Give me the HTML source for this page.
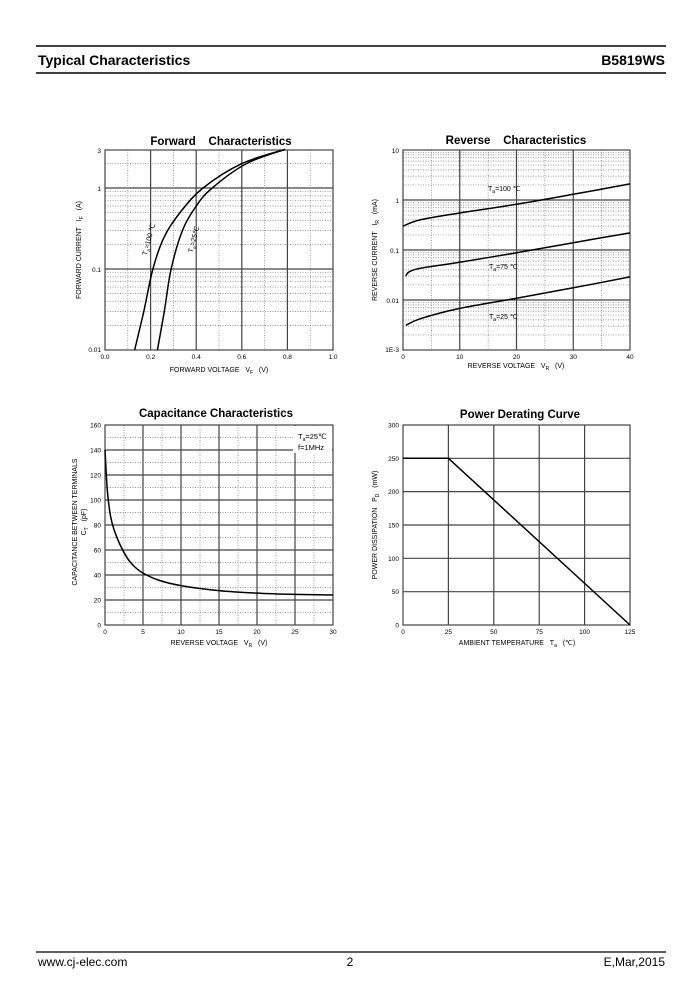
<!DOCTYPE html>
<html><head><meta charset="utf-8"><style>
body{margin:0;background:#fff}
svg{display:block;font-family:"Liberation Sans",Arial,sans-serif}
</style></head><body>
<svg id="s" width="700" height="1000" viewBox="0 0 700 1000" xmlns="http://www.w3.org/2000/svg">
<rect width="700" height="1000" fill="#fff"/>
<line x1="36" y1="46" x2="666" y2="46" stroke="#000" stroke-width="1.5"/>
<line x1="36" y1="73" x2="666" y2="73" stroke="#000" stroke-width="1.5"/>
<text x="38" y="65" font-size="14" font-weight="bold">Typical Characteristics</text>
<text x="665" y="65" font-size="14" font-weight="bold" text-anchor="end">B5819WS</text>
<line x1="36" y1="952" x2="666" y2="952" stroke="#000" stroke-width="1.2"/>
<text x="38" y="966" font-size="12">www.cj-elec.com</text>
<text x="350" y="966" font-size="12" text-anchor="middle">2</text>
<text x="665" y="966" font-size="12" text-anchor="end">E,Mar,2015</text>
<g id="g"></g>
</svg>
<script>
var g=document.getElementById('g'),h='';
function L(x1,y1,x2,y2,d,w){h+='<line x1="'+x1+'" y1="'+y1+'" x2="'+x2+'" y2="'+y2+'" stroke="'+(d?'#777':'#444')+'" stroke-width="'+(w||(d?0.7:1.2))+'"'+(d?' stroke-dasharray="1,1.5"':'')+'/>';}
function T(x,y,t,s,a,extra){h+='<text x="'+x+'" y="'+y+'" font-size="'+s+'" text-anchor="'+(a||'start')+'" '+(extra||'')+'>'+t+'</text>';}
function P(pts,fx,fy){var d='';pts.forEach(function(p,i){d+=(i?'L':'M')+fx(p[0]).toFixed(1)+','+fy(p[1]).toFixed(1);});h+='<path d="'+d+'" fill="none" stroke="#000" stroke-width="1.5" stroke-linejoin="round"/>';}
function smooth(pts,fx,fy){var d='M'+fx(pts[0][0])+','+fy(pts[0][1]);var P2=pts.map(function(p){return [fx(p[0]),fy(p[1])]});
for(var i=0;i<P2.length-1;i++){var p0=P2[Math.max(i-1,0)],p1=P2[i],p2=P2[i+1],p3=P2[Math.min(i+2,P2.length-1)];
d+='C'+(p1[0]+(p2[0]-p0[0])/6).toFixed(1)+','+(p1[1]+(p2[1]-p0[1])/6).toFixed(1)+' '+(p2[0]-(p3[0]-p1[0])/6).toFixed(1)+','+(p2[1]-(p3[1]-p1[1])/6).toFixed(1)+' '+p2[0].toFixed(1)+','+p2[1].toFixed(1);}
h+='<path d="'+d+'" fill="none" stroke="#000" stroke-width="1.5"/>';}
var lg=Math.log10;
// Forward
(function(){var X0=105,X1=333,Y0=150,Y1=350;var fx=function(v){return X0+v*228},fy=function(i){return 188-lg(i)*81};
[0.01,0.1,1].forEach(function(dec){for(var k=2;k<=9;k++){var v=dec*k;if(v>3)break;var y=fy(v);if(y>Y0+0.5)L(X0,y,X1,y,1);}});
L(X0,fy(1),X1,fy(1));L(X0,fy(0.1),X1,fy(0.1));
for(var i=1;i<10;i++){var x=fx(i/10);L(x,Y0,x,Y1,i%2==1);}
h+='<rect x="'+X0+'" y="'+Y0+'" width="'+(X1-X0)+'" height="'+(Y1-Y0)+'" fill="none" stroke="#444" stroke-width="1.2"/>';
smooth([[0.13,0.01],[0.17,0.03],[0.21,0.1],[0.26,0.25],[0.33,0.5],[0.43,1],[0.6,2],[0.79,3]],fx,fy);
smooth([[0.23,0.01],[0.26,0.03],[0.29,0.1],[0.34,0.3],[0.40,0.6],[0.47,1],[0.62,2],[0.79,3]],fx,fy);
['0.0','0.2','0.4','0.6','0.8','1.0'].forEach(function(t,i){T(fx(i*0.2),359,t,6.5,'middle');});
T(101,153,'3',6.5,'end');T(101,191,'1',6.5,'end');T(101,272,'0.1',6.5,'end');T(101,352,'0.01',6.5,'end');
T(221,145,'Forward&#160;&#160;&#160;&#160;Characteristics',11.5,'middle','font-weight="bold"');
T(219,372,'FORWARD VOLTAGE&#160;&#160;&#160;V<tspan font-size="5" dy="2">F</tspan><tspan dy="-2">&#160;&#160;&#160;(V)</tspan>',7,'middle');
T(0,0,'FORWARD CURRENT&#160;&#160;&#160;I<tspan font-size="5" dy="2">F</tspan><tspan dy="-2">&#160;&#160;&#160;(A)</tspan>',7,'middle','transform="translate(81,250) rotate(-90)"');
T(0,0,'T<tspan font-size="5" dy="2">a</tspan><tspan dy="-2">=100 ℃</tspan>',7,'middle','transform="translate(151,240) rotate(-75)"');
T(0,0,'T<tspan font-size="5" dy="2">a</tspan><tspan dy="-2">=25℃</tspan>',7,'middle','transform="translate(196,240) rotate(-75)"');
})();
// Reverse
(function(){var X0=403,X1=630,Y0=150,Y1=350;var fx=function(v){return X0+v*5.675},fy=function(i){return 200-lg(i)*50};
[0.001,0.01,0.1,1].forEach(function(dec){for(var k=2;k<=9;k++){L(X0,fy(dec*k),X1,fy(dec*k),1);}});
[0.01,0.1,1].forEach(function(v){L(X0,fy(v),X1,fy(v));});
for(var i=1;i<8;i++){var x=fx(i*5);L(x,Y0,x,Y1,i%2==1);}
h+='<rect x="'+X0+'" y="'+Y0+'" width="'+(X1-X0)+'" height="'+(Y1-Y0)+'" fill="none" stroke="#444" stroke-width="1.2"/>';
smooth([[0,0.3],[3,0.4],[10,0.55],[20,0.82],[30,1.3],[40,2.1]],fx,fy);
smooth([[0.5,0.03],[1,0.036],[3,0.043],[10,0.057],[20,0.088],[30,0.14],[40,0.22]],fx,fy);
smooth([[0.5,0.0031],[3,0.0042],[10,0.0068],[20,0.0108],[30,0.0175],[40,0.029]],fx,fy);
[0,10,20,30,40].forEach(function(t){T(fx(t),359,t,6.5,'middle');});
T(399,153,'10',6.5,'end');T(399,203,'1',6.5,'end');T(399,253,'0.1',6.5,'end');T(399,303,'0.01',6.5,'end');T(399,352,'1E-3',6.5,'end');
T(516,144,'Reverse&#160;&#160;&#160;&#160;Characteristics',11.5,'middle','font-weight="bold"');
T(516,368,'REVERSE VOLTAGE&#160;&#160;&#160;V<tspan font-size="5" dy="2">R</tspan><tspan dy="-2">&#160;&#160;&#160;(V)</tspan>',7,'middle');
T(0,0,'REVERSE CURRENT&#160;&#160;&#160;I<tspan font-size="5" dy="2">R</tspan><tspan dy="-2">&#160;&#160;&#160;(mA)</tspan>',7,'middle','transform="translate(377,250) rotate(-90)"');
T(488,191,'T<tspan font-size="5" dy="2">a</tspan><tspan dy="-2">=100 ℃</tspan>',7);
T(489,269,'T<tspan font-size="5" dy="2">a</tspan><tspan dy="-2">=75 ℃</tspan>',7);
T(489,319,'T<tspan font-size="5" dy="2">a</tspan><tspan dy="-2">=25 ℃</tspan>',7);
})();
// Capacitance
(function(){var X0=105,X1=333,Y0=425,Y1=625;var fx=function(v){return X0+v*7.6},fy=function(c){return Y1-c*1.25};
for(var c=10;c<160;c+=10){L(X0,fy(c),X1,fy(c),c%20!=0);}
for(var v=2.5;v<30;v+=2.5){L(fx(v),Y0,fx(v),Y1,(v%5)!=0);}
h+='<rect x="293" y="426" width="39" height="27" fill="#fff"/>';
h+='<rect x="'+X0+'" y="'+Y0+'" width="'+(X1-X0)+'" height="'+(Y1-Y0)+'" fill="none" stroke="#444" stroke-width="1.2"/>';
smooth([[0,140],[0.3,108],[0.7,88],[1.2,76],[2,64],[3,53],[4,46],[5,41.5],[7,36],[10,31.5],[15,27.5],[20,25.5],[25,24.5],[30,24]],fx,fy);
[0,5,10,15,20,25,30].forEach(function(t){T(fx(t),634,t,6.5,'middle');});
for(var c=0;c<=160;c+=20)T(101,fy(c)+2.5,c,6.5,'end');
T(216,417,'Capacitance Characteristics',11.5,'middle','font-weight="bold"');
T(219,645,'REVERSE VOLTAGE&#160;&#160;&#160;V<tspan font-size="5" dy="2">R</tspan><tspan dy="-2">&#160;&#160;&#160;(V)</tspan>',7,'middle');
T(0,0,'CAPACITANCE BETWEEN TERMINALS',7,'middle','transform="translate(77,522) rotate(-90)"');
T(0,0,'C<tspan font-size="5" dy="2">T</tspan><tspan dy="-2">&#160;&#160;&#160;(pF)</tspan>',7,'middle','transform="translate(86,522) rotate(-90)"');
T(298,439,'T<tspan font-size="5" dy="2">a</tspan><tspan dy="-2">=25℃</tspan>',7.5);
T(298,450,'f=1MHz',7.5);
})();
// Power
(function(){var X0=403,X1=630,Y0=425,Y1=625;var fx=function(t){return X0+t*1.816},fy=function(p){return Y1-p*0.6667};
for(var p=50;p<300;p+=50)L(X0,fy(p),X1,fy(p));
for(var t=25;t<125;t+=25)L(fx(t),Y0,fx(t),Y1);
h+='<rect x="'+X0+'" y="'+Y0+'" width="'+(X1-X0)+'" height="'+(Y1-Y0)+'" fill="none" stroke="#444" stroke-width="1.2"/>';
P([[0,250],[25,250],[125,0]],fx,fy);
[0,25,50,75,100,125].forEach(function(t){T(fx(t),634,t,6.5,'middle');});
for(var p=0;p<=300;p+=50)T(399,fy(p)+2.5,p,6.5,'end');
T(520,418,'Power Derating Curve',11.5,'middle','font-weight="bold"');
T(517,645,'AMBIENT TEMPERATURE&#160;&#160;&#160;T<tspan font-size="5" dy="2">a</tspan><tspan dy="-2">&#160;&#160;&#160;(℃)</tspan>',7,'middle');
T(0,0,'POWER DISSIPATION&#160;&#160;&#160;P<tspan font-size="5" dy="2">D</tspan><tspan dy="-2">&#160;&#160;&#160;(mW)</tspan>',7,'middle','transform="translate(377,525) rotate(-90)"');
})();
g.innerHTML=h;
</script>
</body></html>
